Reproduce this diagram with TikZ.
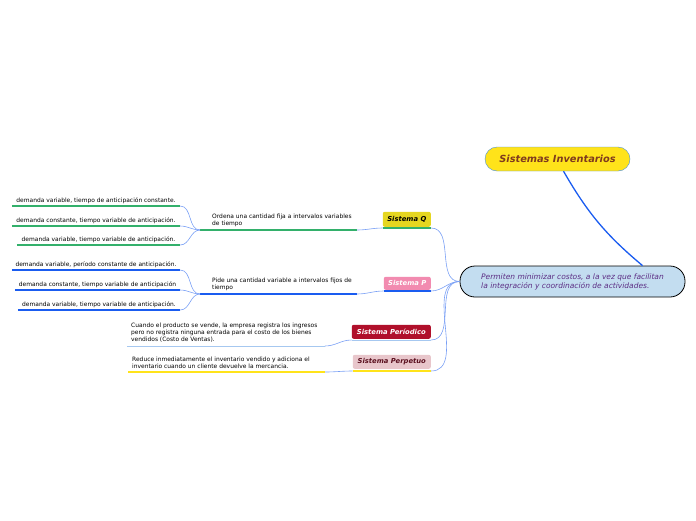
\documentclass[tikz,border=0pt]{standalone}
\usepackage{fontspec}
\setmainfont{DejaVu Sans}
\definecolor{titulo}{HTML}{FFE31A}
\definecolor{tituloborde}{HTML}{4A90D9}
\definecolor{titulotexto}{HTML}{7F3A1E}
\definecolor{centro}{HTML}{C3DDF0}
\definecolor{centrotexto}{HTML}{5B2C83}
\definecolor{verde}{HTML}{33B06B}
\definecolor{azul}{HTML}{1A5CF0}
\definecolor{celeste}{HTML}{A6C8F0}
\definecolor{amarillo}{HTML}{FFE31A}
\definecolor{enlace}{HTML}{7AA0F5}
\definecolor{qfondo}{HTML}{E5D620}
\definecolor{pfondo}{HTML}{F28BB0}
\definecolor{perfondo}{HTML}{B0102B}
\definecolor{perpfondo}{HTML}{E8C6CB}
\definecolor{perptexto}{HTML}{5A0F1E}

\begin{document}
\begin{tikzpicture}[x=1pt,y=-1pt,
  hoja/.style={font=\fontsize{5.95}{7}\selectfont, inner sep=2, anchor=south},
  desc/.style={font=\fontsize{5.95}{7}\selectfont, align=left, inner sep=1, anchor=south west},
  sistema/.style={font=\fontsize{6.8}{8}\selectfont\bfseries\itshape, rounded corners=2,
    inner sep=0, anchor=south east, minimum height=14},
  rama/.style={draw=enlace, line width=0.6, out=0, in=180},
  raya/.style={line width=1.4}]
\useasboundingbox (0,0) rectangle (696,520);

% raiz y nodo central
\node[draw=tituloborde, fill=titulo, rounded corners=12, minimum width=145, minimum height=24,
  text=titulotexto, font=\fontsize{9.8}{11}\selectfont\bfseries\itshape] (sis) at (557.5,159) {Sistemas Inventarios};
\node[draw=black, fill=centro, rounded corners=15, minimum width=225, minimum height=31, line width=0.8,
  text=centrotexto, align=left, font=\fontsize{7.5}{9}\selectfont\itshape] (cen) at (572.5,281.5)
  {Permiten minimizar costos, a la vez que facilitan\\la integración y coordinación de actividades.};
\draw[azul, line width=1.3] ([xshift=6]sis.south) to[out=-60,in=140] ([xshift=70]cen.north);

% sistemas
\node[sistema, fill=qfondo, minimum width=48, minimum height=15] (q) at (431,227) {Sistema Q};
\node[sistema, fill=pfondo, minimum width=47, minimum height=13, text=white] (p) at (431,290) {Sistema P};
\node[sistema, fill=perfondo, minimum width=79, text=white] (per) at (431,339) {Sistema Períodico};
\node[sistema, fill=perpfondo, minimum width=78, text=perptexto] (perp) at (431,369) {Sistema Perpetuo};
\draw[raya, verde] ([yshift=-1]q.south west) -- ([yshift=-1]q.south east) coordinate (q-e);
\draw[raya, azul] ([yshift=-1]p.south west) -- ([yshift=-1]p.south east) coordinate (p-e);
\draw[celeste, line width=0.8] ([yshift=-1]per.south west) -- ([yshift=-1]per.south east) coordinate (per-e);
\draw[raya, amarillo] ([yshift=-2]perp.south west) -- ([yshift=-2]perp.south east) coordinate (perp-e);
\foreach \s in {q-e,p-e,per-e,perp-e}
  \draw[rama] (\s) to (cen.west);

% descripciones
\node[desc] (dq) at (211,228) {Ordena una cantidad fija a intervalos variables\\de tiempo};
\coordinate (dq-a) at (200,230);
\coordinate (dq-b) at (357,230);
\draw[raya, verde] (dq-a) -- (dq-b);
\draw[rama] (dq-b) to ([yshift=-1]q.south west);

\node[desc] (dp) at (211,292) {Pide una cantidad variable a intervalos fijos de\\tiempo};
\coordinate (dp-a) at (200,294);
\coordinate (dp-b) at (357,294);
\draw[raya, azul] (dp-a) -- (dp-b);
\draw[rama] (dp-b) to ([yshift=-1]p.south west);

\node[desc] (dper) at (130,343) {Cuando el producto se vende, la empresa registra los ingresos\\pero no registra ninguna entrada para el costo de los bienes\\vendidos (Costo de Ventas).};
\coordinate (dper-a) at (127,346);
\coordinate (dper-b) at (325,346);
\draw[celeste, line width=0.8] (dper-a) -- (dper-b);
\draw[rama] (dper-b) to ([yshift=-1]per.south west);

\node[desc] (dperp) at (131,369.5) {Reduce inmediatamente el inventario vendido y adiciona el\\inventario cuando un cliente devuelve la mercancia.};
\coordinate (dperp-a) at (128,372);
\coordinate (dperp-b) at (325,372);
\draw[raya, amarillo] (dperp-a) -- (dperp-b);
\draw[rama] (dperp-b) to ([yshift=-2]perp.south west);

% hojas del sistema Q
\node[hoja, minimum width=168] (q1) at (96,206) {demanda variable, tiempo de anticipación constante.};
\node[hoja, minimum width=168] (q2) at (96,226) {demanda constante, tiempo variable de anticipación.};
\node[hoja, minimum width=163] (q3) at (98.5,245) {demanda variable, tiempo variable de anticipación.};
\foreach \h in {q1,q2,q3} {
  \draw[raya, verde] (\h.south west) -- (\h.south east);
  \draw[rama] (\h.south east) to (dq-a);
}

% hojas del sistema P
\node[hoja, minimum width=168] (p1) at (96,270) {demanda variable, período constante de anticipación.};
\node[hoja, minimum width=165] (p2) at (97.5,290) {demanda constante, tiempo variable de anticipación};
\node[hoja, minimum width=162] (p3) at (99,310) {demanda variable, tiempo variable de anticipación.};
\foreach \h in {p1,p2,p3} {
  \draw[raya, azul] (\h.south west) -- (\h.south east);
  \draw[rama] (\h.south east) to (dp-a);
}
\end{tikzpicture}
\end{document}
